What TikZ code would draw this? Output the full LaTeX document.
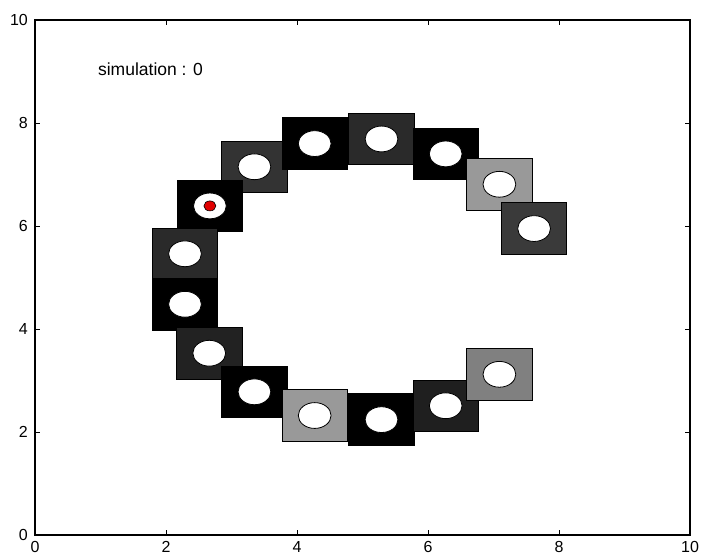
\documentclass[tikz,border=0pt]{standalone}
\usepackage{fontspec}
\setmainfont{Liberation Sans}
\definecolor{gA}{HTML}{333333}
\definecolor{gC}{HTML}{2A2A2A}
\definecolor{gE}{HTML}{999999}
\definecolor{gF}{HTML}{3A3A3A}
\definecolor{gG}{HTML}{2A2A2A}
\definecolor{gI}{HTML}{222222}
\definecolor{gM}{HTML}{1F1F1F}
\definecolor{gN}{HTML}{808080}
\definecolor{dotred}{HTML}{E00000}
\tikzset{
  cell/.style={draw=black, line width=0.8bp},
  hole/.style={draw=black, fill=white, line width=0.8bp},
  ticklab/.style={font=\fontsize{16bp}{18bp}\selectfont, inner sep=0pt},
  frame/.style={draw=black, line width=1.2bp},
  tickmark/.style={draw=black, line width=0.8bp}
}
\begin{document}
\begin{tikzpicture}[x=65.5bp, y=51.5bp]
\useasboundingbox (-35/65.5, -21/51.5) rectangle (670/65.5, 535/51.5);
\fill[white] (-35/65.5, -21/51.5) rectangle (670/65.5, 535/51.5);
% squares in drawing order: cx/cy/colour
\foreach \cx/\cy/\col in {
  3.35/7.15/gA,
  4.27/7.60/black,
  5.29/7.69/gC,
  6.27/7.40/black,
  7.09/6.81/gE,
  7.62/5.95/gF,
  2.67/6.39/black,
  2.29/5.46/gG,
  2.29/4.48/black,
  2.66/3.53/gI,
  3.35/2.78/black,
  4.27/2.32/gE,
  5.29/2.24/black,
  6.27/2.51/gM,
  7.09/3.12/gN}{
  \fill[cell, fill=\col] (\cx-0.5,\cy-0.5) rectangle (\cx+0.5,\cy+0.5);
  \filldraw[hole] (\cx,\cy) ellipse [x radius=16.4bp, y radius=12.9bp];
}
% red marker
\filldraw[draw=black, fill=dotred, line width=0.6bp] (2.67,6.39) ellipse [x radius=6bp, y radius=5bp];
% frame
\draw[frame] (0,0) rectangle (10,10);
% ticks
\foreach \v in {2,4,6,8}{
  \draw[tickmark] (\v,0) -- ++(0,5bp);
  \draw[tickmark] (\v,10) -- ++(0,-5bp);
  \draw[tickmark] (0,\v) -- ++(5bp,0);
  \draw[tickmark] (10,\v) -- ++(-5bp,0);
}
% tick labels
\foreach \v in {0,2,4,6,8,10}{
  \node[ticklab, anchor=north] (xl\v) at (\v,-6bp) {\v};
  \node[ticklab, anchor=east] (yl\v) at (-7bp,\v) {\v};
}
\node[font=\fontsize{17.5bp}{20bp}\selectfont, anchor=base west, inner sep=0pt] (title) at (0.96,8.93) {simulation : 0};
\end{tikzpicture}
\end{document}
